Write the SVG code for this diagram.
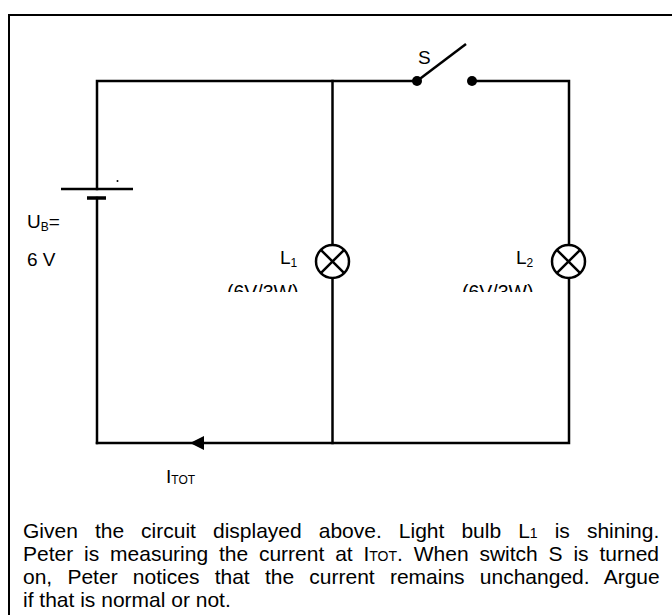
<svg xmlns="http://www.w3.org/2000/svg" width="672" height="615" viewBox="0 0 672 615">
<style>
.w{stroke:#000;stroke-width:2.5;fill:none;stroke-linecap:square}
.lamp{stroke:#000;stroke-width:2.5;fill:#fff}
.t{font-family:"Liberation Sans",Arial,sans-serif;fill:#000}
</style>
<defs>
<clipPath id="clipRating"><rect x="0" y="0" width="672" height="292"/></clipPath>
</defs>
<rect x="9" y="15" width="700" height="700" fill="#fff" stroke="#000" stroke-width="2"/>
<g id="connectors">
<polyline class="w" points="417,81 97,81 97,189"/>
<line class="w" x1="97" y1="198" x2="97" y2="443"/>
<polyline class="w" points="97,443 569,443 569,81 472,81"/>
<line class="w" x1="332.5" y1="81" x2="332.5" y2="443"/>
<polygon points="190,443 204,436 204,450" fill="#000"/>
</g>
<g id="battery">
<line x1="61" y1="189" x2="133" y2="189" stroke="#000" stroke-width="2.5"/>
<line x1="87" y1="198" x2="106" y2="198" stroke="#000" stroke-width="3.5"/>
<circle cx="117.5" cy="181" r="1" fill="#000"/>
<text class="t" x="27" y="228" font-size="19">U<tspan font-size="12" dy="3">B</tspan><tspan dy="-3">=</tspan></text>
<text class="t" x="27" y="266" font-size="19">6 V</text>
</g>
<g id="switch">
<circle cx="417" cy="81" r="5" fill="#000"/>
<circle cx="472" cy="81" r="5" fill="#000"/>
<line x1="417" y1="81" x2="466" y2="44" stroke="#000" stroke-width="2.5"/>
<text class="t" x="418" y="64" font-size="19">S</text>
</g>
<g id="lamp1">
<circle class="lamp" cx="332.5" cy="261.5" r="16.5"/>
<path d="M320.8,249.8 L344.2,273.2 M344.2,249.8 L320.8,273.2" stroke="#000" stroke-width="2.5"/>
<text class="t" x="280" y="264" font-size="19">L<tspan font-size="12" dy="3">1</tspan></text>
<text class="t" x="227" y="299" font-size="19.5" clip-path="url(#clipRating)">(6V/3W)</text>
</g>
<g id="lamp2">
<circle class="lamp" cx="568.5" cy="261.5" r="16.5"/>
<path d="M556.8,249.8 L580.2,273.2 M580.2,249.8 L556.8,273.2" stroke="#000" stroke-width="2.5"/>
<text class="t" x="516" y="264" font-size="19">L<tspan font-size="12" dy="3">2</tspan></text>
<text class="t" x="462" y="299" font-size="19.5" clip-path="url(#clipRating)">(6V/3W)</text>
</g>
<g id="current-label">
<text class="t" x="166" y="483" font-size="19">I<tspan font-size="12" dy="1">TOT</tspan></text>
</g>
<g id="question" class="t" font-size="21">
<text x="23" y="538" word-spacing="11.2">Given the circuit displayed above. Light bulb L<tspan font-size="14">1</tspan> is shining.</text>
<text x="23" y="561" word-spacing="5">Peter is measuring the current at I<tspan font-size="14">TOT</tspan>. When switch S is turned</text>
<text x="23" y="584" word-spacing="9.4">on, Peter notices that the current remains unchanged. Argue</text>
<text x="23" y="607">if that is normal or not.</text>
</g>
</svg>
